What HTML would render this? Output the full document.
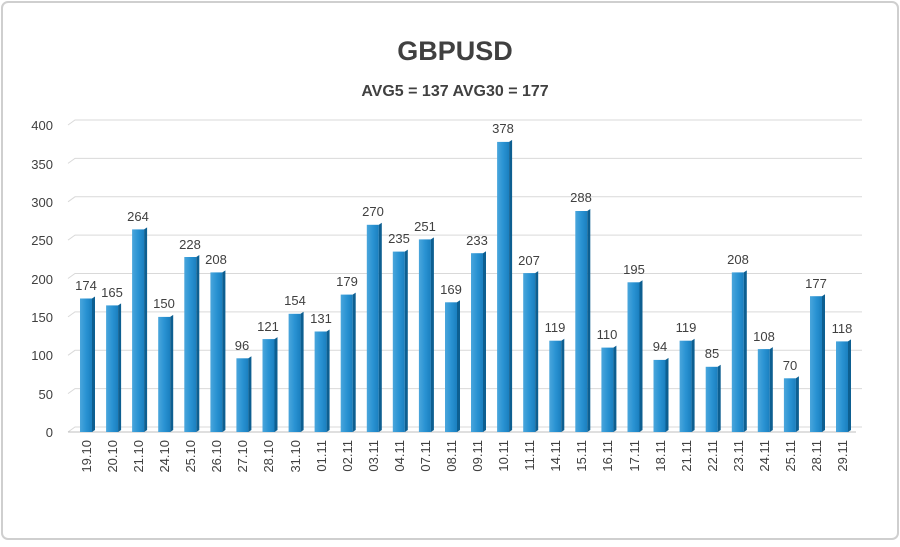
<!DOCTYPE html>
<html><head><style>
body{margin:0;background:#fff}
svg{display:block;font-family:"Liberation Sans",sans-serif}
</style></head><body>
<svg width="900" height="547" viewBox="0 0 900 547">
<defs>
<linearGradient id="g" x1="0" x2="1" y1="0" y2="0">
<stop offset="0" stop-color="#4aa6dc"/><stop offset="0.5" stop-color="#2a93d3"/><stop offset="1" stop-color="#1a7fbf"/>
</linearGradient>
</defs>
<rect x="2" y="2" width="896" height="537" rx="6" fill="#fff" stroke="#cfcfcf" stroke-width="2"/>
<text x="455" y="60" text-anchor="middle" font-size="27" font-weight="bold" fill="#404040">GBPUSD</text>
<text x="455" y="96" text-anchor="middle" font-size="16" font-weight="bold" fill="#404040">AVG5 = 137 AVG30 = 177</text>
<g stroke="#d9d9d9" stroke-width="1" fill="none">
<path d="M68 432 L75 427 H862"/><path d="M68 393.6 L75 388.6 H862"/><path d="M68 355.3 L75 350.3 H862"/><path d="M68 316.9 L75 311.9 H862"/><path d="M68 278.5 L75 273.5 H862"/><path d="M68 240.1 L75 235.1 H862"/><path d="M68 201.8 L75 196.8 H862"/><path d="M68 163.4 L75 158.4 H862"/><path d="M68 125 L75 120 H862"/>
<path d="M68 432 H856" stroke="#bfbfbf"/>
</g>
<g font-size="13" fill="#404040" text-anchor="end">
<text x="53" y="437">0</text><text x="53" y="399">50</text><text x="53" y="360">100</text><text x="53" y="322">150</text><text x="53" y="284">200</text><text x="53" y="245">250</text><text x="53" y="207">300</text><text x="53" y="169">350</text><text x="53" y="130">400</text>
</g>
<g id="bars">
<rect x="80" y="298.5" width="12" height="133.5" fill="url(#g)"/><polygon points="92,298.5 95,296.5 95,430 92,432" fill="#0d5f91"/>
<rect x="106.1" y="305.4" width="12" height="126.6" fill="url(#g)"/><polygon points="118.1,305.4 121.1,303.4 121.1,430 118.1,432" fill="#0d5f91"/>
<rect x="132.1" y="229.4" width="12" height="202.6" fill="url(#g)"/><polygon points="144.1,229.4 147.1,227.4 147.1,430 144.1,432" fill="#0d5f91"/>
<rect x="158.2" y="316.9" width="12" height="115.1" fill="url(#g)"/><polygon points="170.2,316.9 173.2,314.9 173.2,430 170.2,432" fill="#0d5f91"/>
<rect x="184.3" y="257" width="12" height="175" fill="url(#g)"/><polygon points="196.3,257 199.3,255 199.3,430 196.3,432" fill="#0d5f91"/>
<rect x="210.4" y="272.4" width="12" height="159.6" fill="url(#g)"/><polygon points="222.4,272.4 225.4,270.4 225.4,430 222.4,432" fill="#0d5f91"/>
<rect x="236.4" y="358.3" width="12" height="73.7" fill="url(#g)"/><polygon points="248.4,358.3 251.4,356.3 251.4,430 248.4,432" fill="#0d5f91"/>
<rect x="262.5" y="339.1" width="12" height="92.9" fill="url(#g)"/><polygon points="274.5,339.1 277.5,337.1 277.5,430 274.5,432" fill="#0d5f91"/>
<rect x="288.6" y="313.8" width="12" height="118.2" fill="url(#g)"/><polygon points="300.6,313.8 303.6,311.8 303.6,430 300.6,432" fill="#0d5f91"/>
<rect x="314.6" y="331.5" width="12" height="100.5" fill="url(#g)"/><polygon points="326.6,331.5 329.6,329.5 329.6,430 326.6,432" fill="#0d5f91"/>
<rect x="340.7" y="294.6" width="12" height="137.4" fill="url(#g)"/><polygon points="352.7,294.6 355.7,292.6 355.7,430 352.7,432" fill="#0d5f91"/>
<rect x="366.8" y="224.8" width="12" height="207.2" fill="url(#g)"/><polygon points="378.8,224.8 381.8,222.8 381.8,430 378.8,432" fill="#0d5f91"/>
<rect x="392.8" y="251.6" width="12" height="180.4" fill="url(#g)"/><polygon points="404.8,251.6 407.8,249.6 407.8,430 404.8,432" fill="#0d5f91"/>
<rect x="418.9" y="239.4" width="12" height="192.6" fill="url(#g)"/><polygon points="430.9,239.4 433.9,237.4 433.9,430 430.9,432" fill="#0d5f91"/>
<rect x="445" y="302.3" width="12" height="129.7" fill="url(#g)"/><polygon points="457,302.3 460,300.3 460,430 457,432" fill="#0d5f91"/>
<rect x="471" y="253.2" width="12" height="178.8" fill="url(#g)"/><polygon points="483,253.2 486,251.2 486,430 483,432" fill="#0d5f91"/>
<rect x="497.1" y="141.9" width="12" height="290.1" fill="url(#g)"/><polygon points="509.1,141.9 512.1,139.9 512.1,430 509.1,432" fill="#0d5f91"/>
<rect x="523.2" y="273.1" width="12" height="158.9" fill="url(#g)"/><polygon points="535.2,273.1 538.2,271.1 538.2,430 535.2,432" fill="#0d5f91"/>
<rect x="549.3" y="340.7" width="12" height="91.3" fill="url(#g)"/><polygon points="561.3,340.7 564.3,338.7 564.3,430 561.3,432" fill="#0d5f91"/>
<rect x="575.3" y="211" width="12" height="221" fill="url(#g)"/><polygon points="587.3,211 590.3,209 590.3,430 587.3,432" fill="#0d5f91"/>
<rect x="601.4" y="347.6" width="12" height="84.4" fill="url(#g)"/><polygon points="613.4,347.6 616.4,345.6 616.4,430 613.4,432" fill="#0d5f91"/>
<rect x="627.5" y="282.3" width="12" height="149.7" fill="url(#g)"/><polygon points="639.5,282.3 642.5,280.3 642.5,430 639.5,432" fill="#0d5f91"/>
<rect x="653.5" y="359.9" width="12" height="72.1" fill="url(#g)"/><polygon points="665.5,359.9 668.5,357.9 668.5,430 665.5,432" fill="#0d5f91"/>
<rect x="679.6" y="340.7" width="12" height="91.3" fill="url(#g)"/><polygon points="691.6,340.7 694.6,338.7 694.6,430 691.6,432" fill="#0d5f91"/>
<rect x="705.7" y="366.8" width="12" height="65.2" fill="url(#g)"/><polygon points="717.7,366.8 720.7,364.8 720.7,430 717.7,432" fill="#0d5f91"/>
<rect x="731.8" y="272.4" width="12" height="159.6" fill="url(#g)"/><polygon points="743.8,272.4 746.8,270.4 746.8,430 743.8,432" fill="#0d5f91"/>
<rect x="757.8" y="349.1" width="12" height="82.9" fill="url(#g)"/><polygon points="769.8,349.1 772.8,347.1 772.8,430 769.8,432" fill="#0d5f91"/>
<rect x="783.9" y="378.3" width="12" height="53.7" fill="url(#g)"/><polygon points="795.9,378.3 798.9,376.3 798.9,430 795.9,432" fill="#0d5f91"/>
<rect x="810" y="296.2" width="12" height="135.8" fill="url(#g)"/><polygon points="822,296.2 825,294.2 825,430 822,432" fill="#0d5f91"/>
<rect x="836" y="341.4" width="12" height="90.6" fill="url(#g)"/><polygon points="848,341.4 851,339.4 851,430 848,432" fill="#0d5f91"/>
</g>
<g font-size="13" fill="#404040" text-anchor="middle">
<text x="86" y="290">174</text><text x="112" y="297">165</text><text x="138" y="221">264</text><text x="164" y="308">150</text><text x="190" y="249">228</text><text x="216" y="264">208</text><text x="242" y="350">96</text><text x="268" y="331">121</text><text x="295" y="305">154</text><text x="321" y="323">131</text><text x="347" y="286">179</text><text x="373" y="216">270</text><text x="399" y="243">235</text><text x="425" y="231">251</text><text x="451" y="294">169</text><text x="477" y="245">233</text><text x="503" y="133">378</text><text x="529" y="265">207</text><text x="555" y="332">119</text><text x="581" y="202">288</text><text x="607" y="339">110</text><text x="634" y="274">195</text><text x="660" y="351">94</text><text x="686" y="332">119</text><text x="712" y="358">85</text><text x="738" y="264">208</text><text x="764" y="341">108</text><text x="790" y="370">70</text><text x="816" y="288">177</text><text x="842" y="333">118</text>
</g>
<g font-size="13" fill="#404040" text-anchor="end">
<text transform="translate(91,440) rotate(-90)">19.10</text><text transform="translate(117,440) rotate(-90)">20.10</text><text transform="translate(143,440) rotate(-90)">21.10</text><text transform="translate(169,440) rotate(-90)">24.10</text><text transform="translate(195,440) rotate(-90)">25.10</text><text transform="translate(221,440) rotate(-90)">26.10</text><text transform="translate(247,440) rotate(-90)">27.10</text><text transform="translate(273,440) rotate(-90)">28.10</text><text transform="translate(300,440) rotate(-90)">31.10</text><text transform="translate(326,440) rotate(-90)">01.11</text><text transform="translate(352,440) rotate(-90)">02.11</text><text transform="translate(378,440) rotate(-90)">03.11</text><text transform="translate(404,440) rotate(-90)">04.11</text><text transform="translate(430,440) rotate(-90)">07.11</text><text transform="translate(456,440) rotate(-90)">08.11</text><text transform="translate(482,440) rotate(-90)">09.11</text><text transform="translate(508,440) rotate(-90)">10.11</text><text transform="translate(534,440) rotate(-90)">11.11</text><text transform="translate(560,440) rotate(-90)">14.11</text><text transform="translate(586,440) rotate(-90)">15.11</text><text transform="translate(612,440) rotate(-90)">16.11</text><text transform="translate(639,440) rotate(-90)">17.11</text><text transform="translate(665,440) rotate(-90)">18.11</text><text transform="translate(691,440) rotate(-90)">21.11</text><text transform="translate(717,440) rotate(-90)">22.11</text><text transform="translate(743,440) rotate(-90)">23.11</text><text transform="translate(769,440) rotate(-90)">24.11</text><text transform="translate(795,440) rotate(-90)">25.11</text><text transform="translate(821,440) rotate(-90)">28.11</text><text transform="translate(847,440) rotate(-90)">29.11</text>
</g>
</svg>
</body></html>
